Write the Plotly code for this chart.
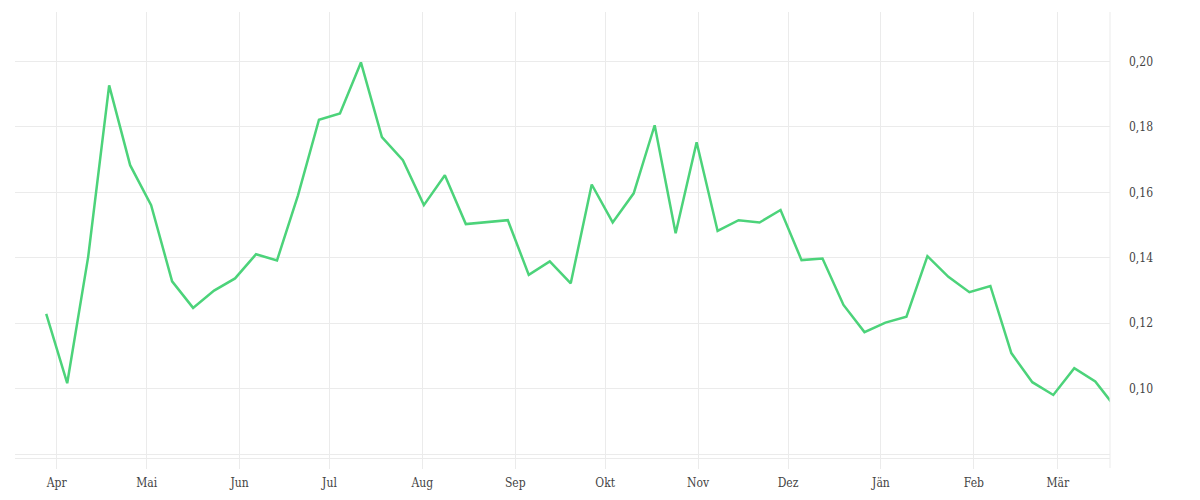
import pandas as pd
import plotly.graph_objects as go

# weekly values
start_date = "2022-03-28 12:00"
values = [0.1229, 0.1017, 0.1403, 0.1927, 0.1683, 0.1561, 0.1328, 0.1247,
          0.1300, 0.1337, 0.1411, 0.1392, 0.1591, 0.1822, 0.1841, 0.1997,
          0.1769, 0.1698, 0.1561, 0.1652, 0.1503, 0.1509, 0.1515, 0.1348,
          0.1389, 0.1322, 0.1624, 0.1508, 0.1597, 0.1805, 0.1475, 0.1753,
          0.1482, 0.1515, 0.1508, 0.1546, 0.1393, 0.1398, 0.1256, 0.1173,
          0.1202, 0.1220, 0.1405, 0.1342, 0.1295, 0.1314, 0.1109, 0.1020,
          0.0981, 0.1063, 0.1022, 0.0940]
dates = pd.date_range(start_date, periods=len(values), freq="7D")

month_ticks  = pd.date_range("2022-04-01", "2023-03-01", freq="MS")
month_labels = ["Apr", "Mai", "Jun", "Jul", "Aug", "Sep", "Okt", "Nov",
                "Dez", "Jän", "Feb", "Mär"]
y_ticks  = [0.08, 0.10, 0.12, 0.14, 0.16, 0.18, 0.20]
y_labels = ["", "0,10", "0,12", "0,14", "0,16", "0,18", "0,20"]

grid = "#ebebeb"
font = dict(family="DejaVu Serif Condensed, DejaVu Serif", size=12,
            color="#444")

fig = go.Figure(go.Scatter(x=dates, y=values, mode="lines",
                           line=dict(color="#4cd37a", width=2.5),
                           hoverinfo="x+y"))

fig.update_xaxes(range=["2022-03-18 02:00", "2023-03-18 10:00"],
                 tickvals=month_ticks, ticktext=month_labels,
                 showgrid=True, gridcolor=grid, gridwidth=1,
                 showline=True, linecolor=grid, linewidth=1,
                 ticks="outside", ticklen=10, tickcolor=grid, tickwidth=1,
                 ticklabelstandoff=4, zeroline=False)
fig.update_yaxes(range=[0.07884, 0.2151], side="right",
                 tickvals=y_ticks, ticktext=y_labels,
                 showgrid=True, gridcolor=grid, gridwidth=1,
                 ticks="", ticklabelstandoff=18, zeroline=False)

# thin rule along the right edge, running down past the axis like the ticks
fig.add_shape(type="line", xref="paper", yref="paper",
              x0=1, x1=1, y0=1, y1=-10 / 446,
              line=dict(color=grid, width=1))

# the page body adds 8px, so margins are set 8px short on the left/top
fig.update_layout(width=1200, height=500,
                  margin=dict(l=7, r=98, t=4, b=50),
                  plot_bgcolor="white", paper_bgcolor="white",
                  font=font, showlegend=False)

fig.write_html("out.html")
